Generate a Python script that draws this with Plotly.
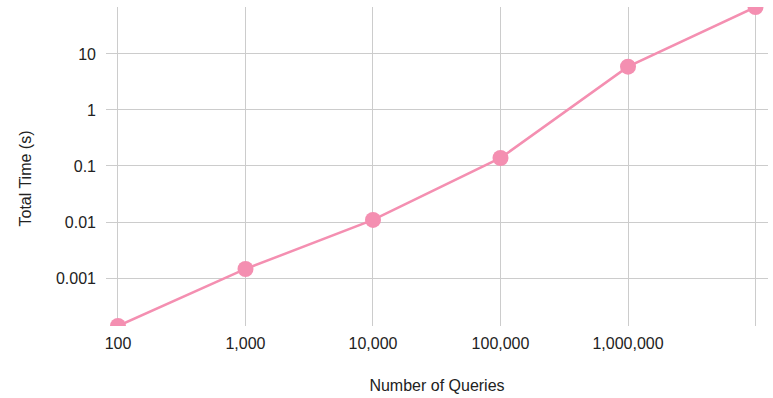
import plotly.graph_objects as go
import math

queries = [100, 1000, 10000, 100000, 1000000, 10000000]
total_time = [0.000139, 0.00145, 0.0109, 0.139, 5.93, 69.0]

x_tickvals = [100, 1000, 10000, 100000, 1000000, 10000000]
x_ticktext = ["100", "1,000", "10,000", "100,000", "1,000,000", ""]
y_tickvals = [0.001, 0.01, 0.1, 1, 10]
y_ticktext = ["0.001", "0.01", "0.1", "1", "10"]

pink = "#F48FB1"
grid = "#CCCCCC"
font_family = "Liberation Sans, Arial, sans-serif"

fig = go.Figure(go.Scatter(
    x=queries, y=total_time, mode="lines+markers",
    line=dict(color=pink, width=2.5),
    marker=dict(color=pink, size=16),
    cliponaxis=True,
))

fig.update_layout(
    width=773, height=398,
    margin=dict(l=106, r=5, t=7, b=72),
    paper_bgcolor="white", plot_bgcolor="white",
    showlegend=False,
    font=dict(family=font_family, size=16, color="#222222"),
    xaxis=dict(
        type="log",
        range=[math.log10(queries[0]) - 0.094, math.log10(queries[-1]) + 0.098],
        tickvals=x_tickvals, ticktext=x_ticktext,
        showgrid=True, gridcolor=grid, gridwidth=1,
        zeroline=False, showline=False, ticks="",
        ticklabelstandoff=6,
        title=dict(text="Number of Queries", font=dict(size=16, color="#222222"), standoff=28),
    ),
    yaxis=dict(
        type="log",
        range=[math.log10(total_time[0]), math.log10(total_time[-1])],
        tickvals=y_tickvals, ticktext=y_ticktext,
        showgrid=True, gridcolor=grid, gridwidth=1,
        zeroline=False, showline=False, ticks="",
        ticklabelstandoff=9,
    ),
    annotations=[dict(
        text="Total Time (s)", textangle=-90,
        xref="paper", yref="paper", x=-0.121, y=0.462,
        xanchor="center", yanchor="middle", showarrow=False,
        font=dict(size=16, color="#222222"),
    )],
)

fig.write_html("out.html")
